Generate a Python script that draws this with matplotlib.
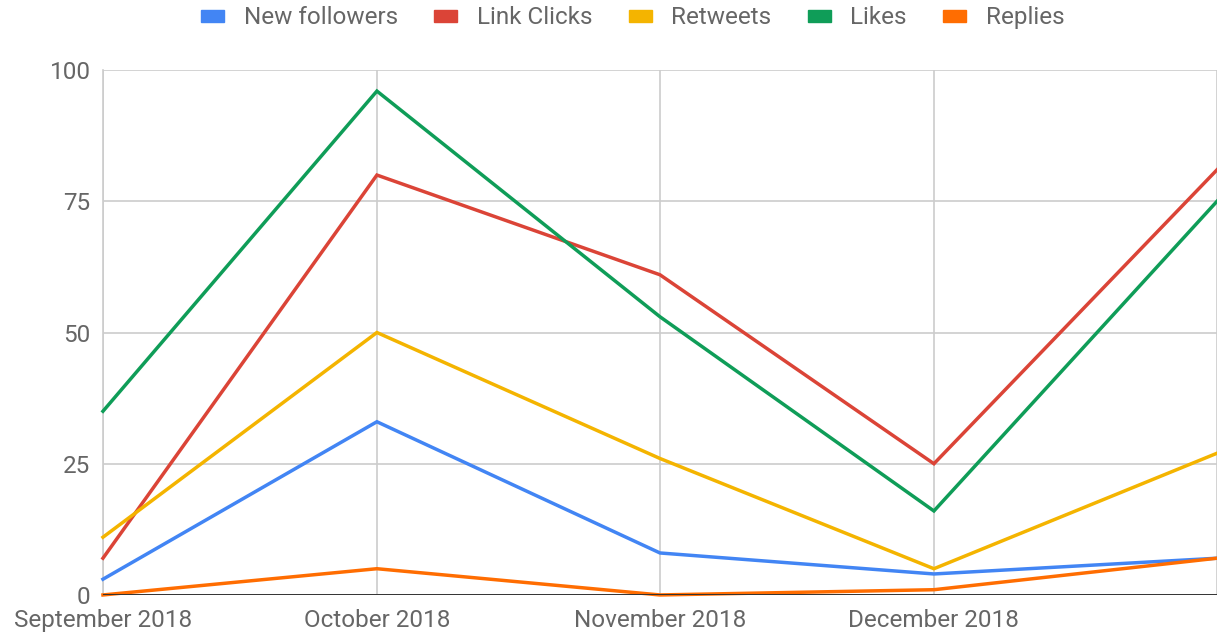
import datetime as dt
import matplotlib.pyplot as plt
import matplotlib.dates as mdates
from matplotlib.patches import Patch

plt.rcParams['font.family'] = ['Roboto', 'DejaVu Sans']

months = [dt.date(2018, 9, 1), dt.date(2018, 10, 1), dt.date(2018, 11, 1),
          dt.date(2018, 12, 1), dt.date(2019, 1, 1)]
month_labels = ["September 2018", "October 2018", "November 2018", "December 2018", ""]

new_followers = [3, 33, 8, 4, 7]
link_clicks = [7, 80, 61, 25, 81]
retweets = [11, 50, 26, 5, 27]
likes = [35, 96, 53, 16, 75]
replies = [0, 5, 0, 1, 7]

series = [
    ("New followers", new_followers, "#4285F4"),
    ("Link Clicks", link_clicks, "#DB4437"),
    ("Retweets", retweets, "#F4B400"),
    ("Likes", likes, "#0F9D58"),
    ("Replies", replies, "#FF6D01"),
]

fig = plt.figure(figsize=(12.17, 6.37), dpi=100)
ax = fig.add_axes([0.0846, 0.066, 0.9154, 0.824])

for name, vals, col in series:
    ax.plot(months, vals, color=col, lw=2.5, solid_joinstyle='miter', clip_on=False, zorder=3)

ax.set_xlim(months[0], months[-1])
ax.set_ylim(0, 100)
ax.set_yticks([0, 25, 50, 75, 100])
ax.set_xticks(months)
ax.set_xticklabels(month_labels)

ax.grid(True, color="#cccccc", lw=1.2)
ax.axhline(0, color="#333333", lw=1.4, zorder=4)
for s in ["top", "right", "bottom"]:
    ax.spines[s].set_visible(False)
ax.spines["left"].set_color("#cccccc")
ax.spines["left"].set_linewidth(1.2)
ax.tick_params(length=0, labelsize=17.5, colors="#666666")
ax.tick_params(axis='x', pad=10)
ax.tick_params(axis='y', pad=9)

handles = [Patch(color=c, label=n) for n, _, c in series]
fig.legend(handles=handles, loc="center", bbox_to_anchor=(0.52, 0.972), ncol=5,
           frameon=False, fontsize=17.5, handlelength=0.95, handleheight=0.4,
           handletextpad=0.8, columnspacing=1.5, labelcolor="#666666")

fig.savefig("out.png", dpi=100)
